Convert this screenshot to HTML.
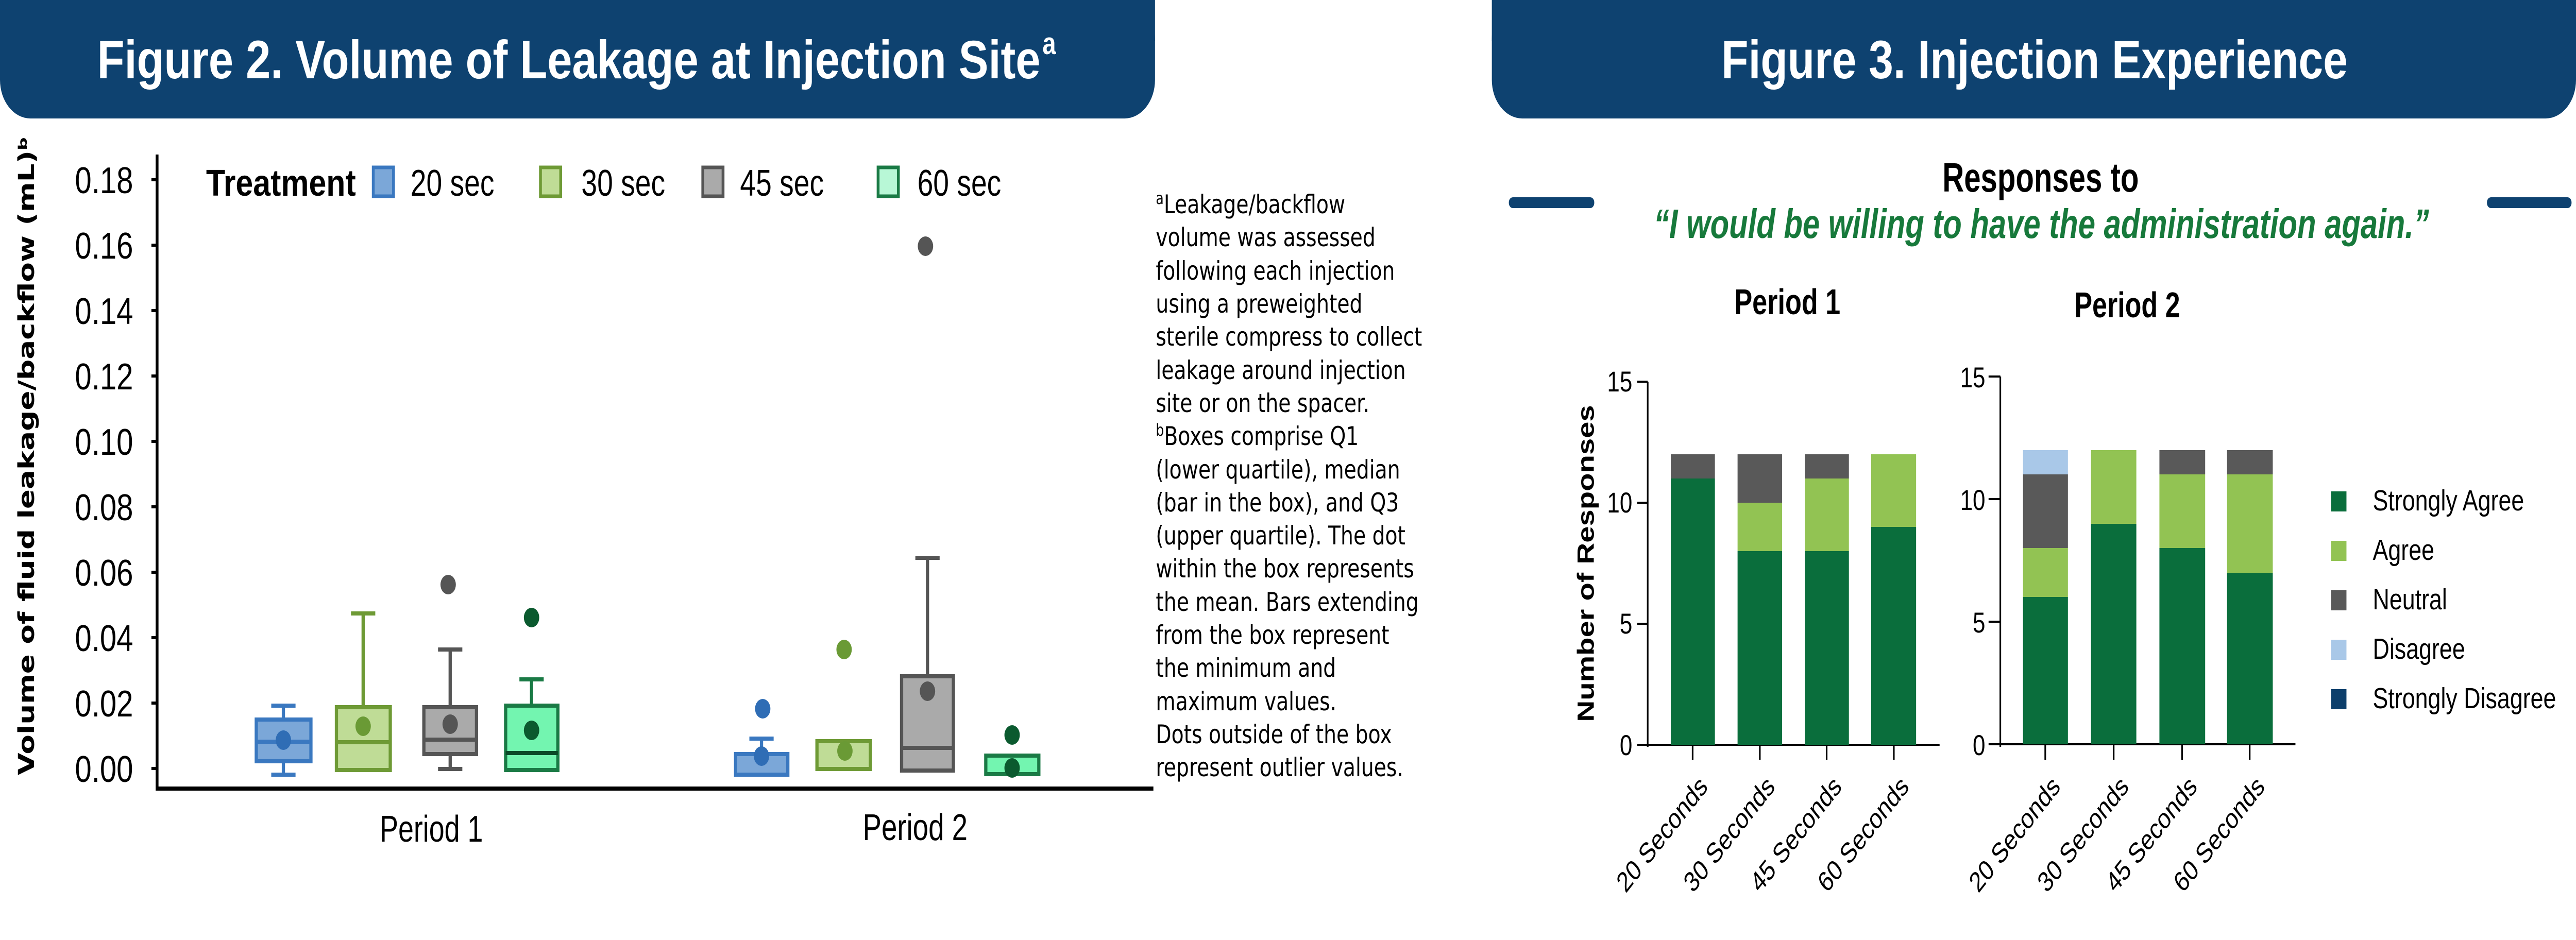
<!DOCTYPE html>
<html><head><meta charset="utf-8"><meta name="viewport" content="width=6363"><style>
html,body{margin:0;padding:0;background:#fff;width:100%;height:100%;overflow:hidden;}
svg{display:block;position:fixed;left:0;top:0;width:100vw;height:100vh;}
</style></head><body>
<svg viewBox="0 0 6363 1825" preserveAspectRatio="none" xmlns="http://www.w3.org/2000/svg">
<rect width="6363" height="1825" fill="#fff"/>
<rect x="0" y="0" width="2853" height="230" rx="75" fill="#0e4270"/>
<rect x="0" y="0" width="2853" height="80" fill="#0e4270"/>
<rect x="3685" y="0" width="2678" height="230" rx="75" fill="#0e4270"/>
<rect x="3685" y="0" width="2678" height="80" fill="#0e4270"/>
<text x="240" y="152" font-family="Liberation Sans Narrow, Liberation Sans, sans-serif" font-weight="bold" font-size="105" fill="#fff" textLength="2330" lengthAdjust="spacingAndGlyphs">Figure 2. Volume of Leakage at Injection Site</text>
<text x="2575" y="105" font-family="Liberation Sans Narrow, Liberation Sans, sans-serif" font-weight="bold" font-size="60" fill="#fff">a</text>
<text x="4252" y="152" font-family="Liberation Sans Narrow, Liberation Sans, sans-serif" font-weight="bold" font-size="105" fill="#fff" textLength="1547" lengthAdjust="spacingAndGlyphs">Figure 3. Injection Experience</text>

<g font-family="Liberation Sans Narrow, Liberation Sans, sans-serif" font-size="72" fill="#000">
<line x1="388" y1="300" x2="388" y2="1535" stroke="#000" stroke-width="7"/>
<line x1="385" y1="1531" x2="2849" y2="1531" stroke="#000" stroke-width="8"/>
<g stroke="#000" stroke-width="6">
<line x1="374" y1="349" x2="388" y2="349"/><line x1="374" y1="476" x2="388" y2="476"/>
<line x1="374" y1="603" x2="388" y2="603"/><line x1="374" y1="730" x2="388" y2="730"/>
<line x1="374" y1="857" x2="388" y2="857"/><line x1="374" y1="984" x2="388" y2="984"/>
<line x1="374" y1="1111" x2="388" y2="1111"/><line x1="374" y1="1238" x2="388" y2="1238"/>
<line x1="374" y1="1365" x2="388" y2="1365"/><line x1="374" y1="1492" x2="388" y2="1492"/>
</g>
<g text-anchor="end">
<text x="329" y="375" textLength="144" lengthAdjust="spacingAndGlyphs">0.18</text>
<text x="329" y="502" textLength="144" lengthAdjust="spacingAndGlyphs">0.16</text>
<text x="329" y="629" textLength="144" lengthAdjust="spacingAndGlyphs">0.14</text>
<text x="329" y="756" textLength="144" lengthAdjust="spacingAndGlyphs">0.12</text>
<text x="329" y="883" textLength="144" lengthAdjust="spacingAndGlyphs">0.10</text>
<text x="329" y="1010" textLength="144" lengthAdjust="spacingAndGlyphs">0.08</text>
<text x="329" y="1137" textLength="144" lengthAdjust="spacingAndGlyphs">0.06</text>
<text x="329" y="1264" textLength="144" lengthAdjust="spacingAndGlyphs">0.04</text>
<text x="329" y="1391" textLength="144" lengthAdjust="spacingAndGlyphs">0.02</text>
<text x="329" y="1518" textLength="144" lengthAdjust="spacingAndGlyphs">0.00</text>
</g>
<text x="938" y="1634" textLength="255" lengthAdjust="spacingAndGlyphs">Period 1</text>
<text x="2131" y="1631" textLength="259" lengthAdjust="spacingAndGlyphs">Period 2</text>
<text x="509" y="380" font-weight="bold" textLength="370" lengthAdjust="spacingAndGlyphs">Treatment</text>
<rect x="922" y="325" width="50" height="56" fill="#7ba7d8" stroke="#3a78c0" stroke-width="7"/>
<text x="1014" y="380" textLength="207" lengthAdjust="spacingAndGlyphs">20 sec</text>
<rect x="1335" y="325" width="50" height="56" fill="#bfdc96" stroke="#6e9a35" stroke-width="7"/>
<text x="1436" y="380" textLength="207" lengthAdjust="spacingAndGlyphs">30 sec</text>
<rect x="1736" y="325" width="50" height="56" fill="#aaaaaa" stroke="#555" stroke-width="7"/>
<text x="1828" y="380" textLength="207" lengthAdjust="spacingAndGlyphs">45 sec</text>
<rect x="2169" y="325" width="50" height="56" fill="#b8f7d6" stroke="#1a7a45" stroke-width="7"/>
<text x="2266" y="380" textLength="207" lengthAdjust="spacingAndGlyphs">60 sec</text>
</g>
<text transform="translate(84,885) rotate(-90)" text-anchor="middle" font-family="DejaVu Sans, sans-serif" font-weight="bold" font-size="54" fill="#000" textLength="1240" lengthAdjust="spacingAndGlyphs">Volume of fluid leakage/backflow (mL)ᵇ</text>

<g stroke-width="8">
<g stroke="#3a78c0" fill="#7ba7d8">
<line x1="700" y1="1370" x2="700" y2="1397"/><line x1="670" y1="1370" x2="730" y2="1370"/>
<line x1="700" y1="1478" x2="700" y2="1504"/><line x1="670" y1="1504" x2="730" y2="1504"/>
<rect x="633" y="1397" width="135" height="81"/>
<line x1="633" y1="1440" x2="768" y2="1440"/>
<circle cx="700" cy="1437" r="19" fill="#2f6db5" stroke="none"/>
</g>
<g stroke="#6e9a35" fill="#bfdc96">
<line x1="897" y1="1191" x2="897" y2="1373"/><line x1="867" y1="1191" x2="927" y2="1191"/>
<rect x="831" y="1373" width="133" height="122"/>
<line x1="831" y1="1441" x2="964" y2="1441"/>
<circle cx="897" cy="1410" r="19" fill="#6a9a35" stroke="none"/>
</g>
<g stroke="#555" fill="#aaaaaa">
<line x1="1112" y1="1261" x2="1112" y2="1373"/><line x1="1082" y1="1261" x2="1142" y2="1261"/>
<line x1="1112" y1="1464" x2="1112" y2="1493"/><line x1="1082" y1="1493" x2="1142" y2="1493"/>
<rect x="1047" y="1373" width="130" height="91"/>
<line x1="1047" y1="1436" x2="1177" y2="1436"/>
<circle cx="1112" cy="1406" r="19" fill="#555" stroke="none"/>
<circle cx="1107" cy="1135" r="19" fill="#555" stroke="none"/>
</g>
<g stroke="#1a7a45" fill="#73f5b0">
<line x1="1313" y1="1319" x2="1313" y2="1370"/><line x1="1283" y1="1319" x2="1343" y2="1319"/>
<rect x="1249" y="1370" width="129" height="125"/>
<line x1="1249" y1="1462" x2="1378" y2="1462" stroke="#0b4a28"/>
<circle cx="1313" cy="1418" r="19" fill="#0b5a2f" stroke="none"/>
<circle cx="1313" cy="1199" r="19" fill="#0b5a2f" stroke="none"/>
</g>
<g stroke="#3a78c0" fill="#7ba7d8">
<line x1="1881" y1="1434" x2="1881" y2="1464"/><line x1="1851" y1="1434" x2="1911" y2="1434"/>
<rect x="1817" y="1464" width="129" height="40"/>
<circle cx="1881" cy="1468" r="19" fill="#2f6db5" stroke="none"/>
<circle cx="1884" cy="1376" r="19" fill="#2f6db5" stroke="none"/>
</g>
<g stroke="#6e9a35" fill="#bfdc96">
<rect x="2018" y="1439" width="132" height="54"/>
<circle cx="2087" cy="1458" r="19" fill="#6a9a35" stroke="none"/>
<circle cx="2085" cy="1261" r="19" fill="#6a9a35" stroke="none"/>
</g>
<g stroke="#555" fill="#aaaaaa">
<line x1="2291" y1="1083" x2="2291" y2="1313"/><line x1="2261" y1="1083" x2="2321" y2="1083"/>
<rect x="2227" y="1313" width="128" height="183"/>
<line x1="2227" y1="1452" x2="2355" y2="1452"/>
<circle cx="2291" cy="1342" r="19" fill="#555" stroke="none"/>
<circle cx="2286" cy="478" r="19" fill="#555" stroke="none"/>
</g>
<g stroke="#1a7a45" fill="#73f5b0">
<rect x="2435" y="1467" width="131" height="36"/>
<circle cx="2500" cy="1491" r="19" fill="#0b5a2f" stroke="none"/>
<circle cx="2500" cy="1427" r="19" fill="#0b5a2f" stroke="none"/>
</g>
</g>

<g font-family="DejaVu Sans, sans-serif" font-size="50" fill="#000">
<text x="2855" y="414"><tspan font-size="32" dy="-18">a</tspan><tspan dy="18">Leakage/backflow</tspan></text>
<text x="2855" y="478">volume was assessed</text>
<text x="2855" y="543">following each injection</text>
<text x="2855" y="607">using a preweighted</text>
<text x="2855" y="671">sterile compress to collect</text>
<text x="2855" y="736">leakage around injection</text>
<text x="2855" y="800">site or on the spacer.</text>
<text x="2855" y="864"><tspan font-size="32" dy="-18">b</tspan><tspan dy="18">Boxes comprise Q1</tspan></text>
<text x="2855" y="929">(lower quartile), median</text>
<text x="2855" y="993">(bar in the box), and Q3</text>
<text x="2855" y="1057">(upper quartile). The dot</text>
<text x="2855" y="1121">within the box represents</text>
<text x="2855" y="1186">the mean. Bars extending</text>
<text x="2855" y="1250">from the box represent</text>
<text x="2855" y="1314">the minimum and</text>
<text x="2855" y="1379">maximum values.</text>
<text x="2855" y="1443">Dots outside of the box</text>
<text x="2855" y="1507">represent outlier values.</text>
</g>

<rect x="3727" y="383" width="211" height="21" rx="10" fill="#0e4270"/>
<rect x="6143" y="383" width="209" height="21" rx="10" fill="#0e4270"/>
<text x="4798" y="372" font-family="Liberation Sans Narrow, Liberation Sans, sans-serif" font-weight="bold" font-size="80" fill="#000" textLength="485" lengthAdjust="spacingAndGlyphs">Responses to</text>
<text x="4085" y="462" font-family="Liberation Sans Narrow, Liberation Sans, sans-serif" font-weight="bold" font-style="italic" font-size="80" fill="#17793b" textLength="1915" lengthAdjust="spacingAndGlyphs">“I would be willing to have the administration again.”</text>
<text x="4284" y="610" font-family="Liberation Sans Narrow, Liberation Sans, sans-serif" font-weight="bold" font-size="70" fill="#000" textLength="262" lengthAdjust="spacingAndGlyphs">Period 1</text>
<text x="5124" y="616" font-family="Liberation Sans Narrow, Liberation Sans, sans-serif" font-weight="bold" font-size="70" fill="#000" textLength="261" lengthAdjust="spacingAndGlyphs">Period 2</text>

<text transform="translate(3937,1094) rotate(-90)" text-anchor="middle" font-family="Liberation Sans, sans-serif" font-weight="bold" font-size="58" fill="#000">Number of Responses</text>

<g font-family="Liberation Sans Narrow, Liberation Sans, sans-serif" font-size="56" fill="#000" text-anchor="end">
<text x="4032" y="760">15</text><text x="4032" y="995">10</text><text x="4032" y="1230">5</text><text x="4032" y="1466">0</text>
<text x="4904" y="752">15</text><text x="4904" y="990">10</text><text x="4904" y="1228">5</text><text x="4904" y="1466">0</text>
</g>
<g stroke="#000" stroke-width="4">
<line x1="4070" y1="741" x2="4070" y2="1450"/>
<line x1="4068" y1="1446" x2="4791" y2="1446"/>
<line x1="4044" y1="741" x2="4070" y2="741"/><line x1="4044" y1="976" x2="4070" y2="976"/>
<line x1="4044" y1="1211" x2="4070" y2="1211"/><line x1="4044" y1="1446" x2="4070" y2="1446"/>
<line x1="4181" y1="1446" x2="4181" y2="1475"/><line x1="4347" y1="1446" x2="4347" y2="1475"/>
<line x1="4512" y1="1446" x2="4512" y2="1475"/><line x1="4678" y1="1446" x2="4678" y2="1475"/>
<line x1="4941" y1="731" x2="4941" y2="1450"/>
<line x1="4939" y1="1445" x2="5670" y2="1445"/>
<line x1="4912" y1="731" x2="4941" y2="731"/><line x1="4912" y1="969" x2="4941" y2="969"/>
<line x1="4912" y1="1207" x2="4941" y2="1207"/><line x1="4912" y1="1445" x2="4941" y2="1445"/>
<line x1="5052" y1="1445" x2="5052" y2="1475"/><line x1="5221" y1="1445" x2="5221" y2="1475"/>
<line x1="5390" y1="1445" x2="5390" y2="1475"/><line x1="5557" y1="1445" x2="5557" y2="1475"/>
</g>
<g>
<rect x="4127" y="929" width="109" height="517" fill="#0a6e3c"/>
<rect x="4127" y="882" width="109" height="47" fill="#595959"/>
<rect x="4292" y="1070" width="110" height="376" fill="#0a6e3c"/>
<rect x="4292" y="976" width="110" height="94" fill="#92c353"/>
<rect x="4292" y="882" width="110" height="94" fill="#595959"/>
<rect x="4458" y="1070" width="109" height="376" fill="#0a6e3c"/>
<rect x="4458" y="929" width="109" height="141" fill="#92c353"/>
<rect x="4458" y="882" width="109" height="47" fill="#595959"/>
<rect x="4622" y="1023" width="111" height="423" fill="#0a6e3c"/>
<rect x="4622" y="882" width="111" height="141" fill="#92c353"/>
</g>
<g>
<rect x="4997" y="1159" width="111" height="286" fill="#0a6e3c"/>
<rect x="4997" y="1064" width="111" height="95" fill="#92c353"/>
<rect x="4997" y="921" width="111" height="143" fill="#595959"/>
<rect x="4997" y="874" width="111" height="47" fill="#a9c8e8"/>
<rect x="5165" y="1017" width="112" height="428" fill="#0a6e3c"/>
<rect x="5165" y="874" width="112" height="143" fill="#92c353"/>
<rect x="5334" y="1064" width="113" height="381" fill="#0a6e3c"/>
<rect x="5334" y="921" width="113" height="143" fill="#92c353"/>
<rect x="5334" y="874" width="113" height="47" fill="#595959"/>
<rect x="5501" y="1112" width="113" height="333" fill="#0a6e3c"/>
<rect x="5501" y="921" width="113" height="191" fill="#92c353"/>
<rect x="5501" y="874" width="113" height="47" fill="#595959"/>
</g>
<g font-family="Liberation Sans, sans-serif" font-size="55" fill="#000" text-anchor="end">
<text transform="translate(4221,1530) rotate(-45)">20 Seconds</text>
<text transform="translate(4387,1530) rotate(-45)">30 Seconds</text>
<text transform="translate(4552,1530) rotate(-45)">45 Seconds</text>
<text transform="translate(4718,1530) rotate(-45)">60 Seconds</text>
<text transform="translate(5092,1530) rotate(-45)">20 Seconds</text>
<text transform="translate(5261,1530) rotate(-45)">30 Seconds</text>
<text transform="translate(5430,1530) rotate(-45)">45 Seconds</text>
<text transform="translate(5597,1530) rotate(-45)">60 Seconds</text>
</g>
<g font-family="Liberation Sans, sans-serif" font-size="57" fill="#000">
<rect x="5758" y="954" width="38" height="39" fill="#0a6e3c"/><text x="5861" y="991">Strongly Agree</text>
<rect x="5758" y="1050" width="38" height="39" fill="#92c353"/><text x="5861" y="1087">Agree</text>
<rect x="5758" y="1146" width="38" height="39" fill="#595959"/><text x="5861" y="1183">Neutral</text>
<rect x="5758" y="1242" width="38" height="39" fill="#a9c8e8"/><text x="5861" y="1279">Disagree</text>
<rect x="5758" y="1338" width="38" height="39" fill="#0d3f6b"/><text x="5861" y="1375">Strongly Disagree</text>
</g>
</svg>
</body></html>
